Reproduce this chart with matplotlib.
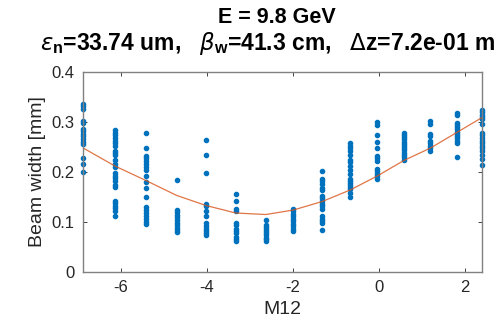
import numpy as np
import matplotlib
matplotlib.use('Agg')
import matplotlib.pyplot as plt

# M12 settings (one column of shots per setting)
m12 = [-6.88, -6.14, -5.42, -4.70, -4.02, -3.33, -2.63, -1.99,
       -1.32, -0.67, -0.04, 0.58, 1.20, 1.81, 2.40]

# measured beam widths [mm] per M12 setting
widths = [
    [0.336, 0.332, 0.327, 0.303, 0.299, 0.287, 0.282, 0.277, 0.272, 0.267,
     0.261, 0.256, 0.228, 0.216, 0.200],
    [0.284, 0.279, 0.274, 0.268, 0.263, 0.258, 0.253, 0.243, 0.238, 0.234,
     0.224, 0.216, 0.210, 0.198, 0.193, 0.188, 0.182, 0.175, 0.171, 0.143,
     0.138, 0.133, 0.128, 0.123, 0.112],
    [0.279, 0.248, 0.233, 0.229, 0.223, 0.217, 0.210, 0.204, 0.192, 0.181,
     0.168, 0.151, 0.131, 0.125, 0.118, 0.113, 0.107, 0.100, 0.097],
    [0.184, 0.125, 0.120, 0.115, 0.111, 0.105, 0.099, 0.094, 0.089, 0.084,
     0.080],
    [0.264, 0.235, 0.199, 0.137, 0.132, 0.122, 0.113, 0.099, 0.092, 0.087,
     0.082, 0.079, 0.074],
    [0.156, 0.143, 0.126, 0.122, 0.099, 0.094, 0.087, 0.082, 0.078, 0.071,
     0.066, 0.063],
    [0.105, 0.095, 0.091, 0.087, 0.082, 0.078, 0.074, 0.069, 0.066, 0.063],
    [0.126, 0.122, 0.117, 0.112, 0.107, 0.102, 0.097, 0.092, 0.087, 0.082],
    [0.202, 0.187, 0.183, 0.176, 0.169, 0.164, 0.153, 0.148, 0.143, 0.137,
     0.132, 0.126, 0.112, 0.107, 0.102, 0.099, 0.084],
    [0.258, 0.253, 0.248, 0.243, 0.235, 0.225, 0.220, 0.212, 0.204, 0.197,
     0.187, 0.183, 0.179, 0.174, 0.170, 0.166, 0.159, 0.150],
    [0.300, 0.294, 0.275, 0.261, 0.248, 0.233, 0.229, 0.223, 0.207, 0.202,
     0.197, 0.192, 0.187],
    [0.279, 0.275, 0.271, 0.266, 0.261, 0.257, 0.253, 0.248, 0.244, 0.239,
     0.235, 0.230, 0.225],
    [0.303, 0.296, 0.276, 0.273, 0.263, 0.258, 0.253, 0.248, 0.243],
    [0.319, 0.314, 0.299, 0.294, 0.290, 0.286, 0.281, 0.277, 0.273, 0.268,
     0.263, 0.258, 0.230],
    [0.325, 0.321, 0.315, 0.310, 0.306, 0.296, 0.279, 0.275, 0.269, 0.263,
     0.258, 0.253, 0.248, 0.243, 0.235, 0.227, 0.214],
]

# fitted beam width at each M12 setting
fit = [0.248, 0.212, 0.183, 0.153, 0.133, 0.118, 0.115, 0.124,
       0.141, 0.164, 0.192, 0.223, 0.248, 0.279, 0.309]

xticks = [-6, -4, -2, 0, 2]
yticks = [0, 0.1, 0.2, 0.3, 0.4]

plt.rcParams['font.family'] = ['Liberation Sans', 'DejaVu Sans']
plt.rcParams['mathtext.fontset'] = 'dejavusans'
plt.rcParams['axes.unicode_minus'] = False

fig = plt.figure(figsize=(4.98, 3.35), dpi=100)
ax = fig.add_axes([0.167, 0.188, 0.801, 0.597])

xs = np.concatenate([[x] * len(w) for x, w in zip(m12, widths)])
ys = np.concatenate(widths)
ax.plot(xs, ys, '.', color='#0072BD', markersize=6, clip_on=False)
ax.plot(m12, fit, '-', color='#D95319', linewidth=0.9, alpha=0.8)

ax.set_xlim(m12[0], m12[-1])
ax.set_ylim(0, 0.4)
ax.set_xticks(xticks)
ax.set_yticks(yticks)
ax.set_yticklabels(['0', '0.1', '0.2', '0.3', '0.4'])

ax.tick_params(direction='in', top=True, right=True, length=3,
               labelsize=12, colors='#262626', width=0.6, pad=6)
for s in ax.spines.values():
    s.set_color('#808080')
    s.set_linewidth(1.0)

ax.set_xlabel('M12', fontsize=14, color='#262626')
ax.set_ylabel('Beam width [mm]', fontsize=14, color='#262626')

# two-line title, placed by hand like the MATLAB figure
fig.text(0.556, 0.931, 'E = 9.8 GeV', ha='center', va='baseline',
         fontsize=15.5, fontweight='bold', color='black')
fig.text(0.538, 0.851,
         r'$\epsilon_\mathregular{n}$=33.74 um,   '
         r'$\beta_\mathregular{w}$=41.3 cm,   '
         r'$\Delta$z=7.2e-01 m',
         ha='center', va='baseline',
         fontsize=16.5, fontweight='bold', color='black')

fig.savefig('out.png', dpi=100)
